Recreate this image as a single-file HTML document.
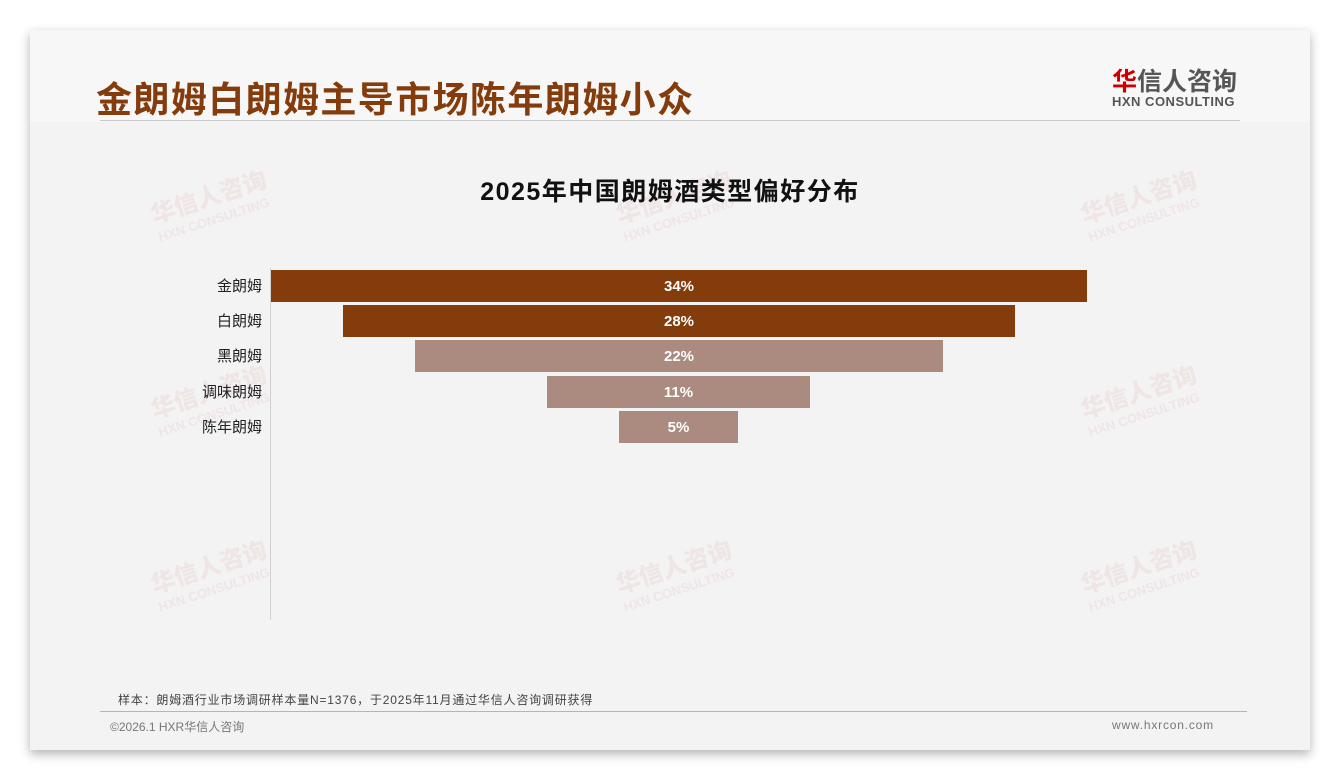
<!DOCTYPE html>
<html><head><meta charset="utf-8"><style>
body{margin:0;width:1340px;height:780px;background:#fff;position:relative;overflow:hidden;font-family:"Liberation Sans","Noto Sans CJK SC",sans-serif}
.card{position:absolute;left:30px;top:30px;width:1280px;height:720px;background:#f3f3f3;box-shadow:0 4px 10px rgba(0,0,0,.3)}
.hdr{position:absolute;left:0;top:0;width:1280px;height:92px;background:#f7f7f7}
.t{position:absolute;white-space:nowrap}
.bar{position:absolute;height:32px;color:#fff;font-weight:bold;font-size:15px;line-height:34px;text-align:center}
.lab{position:absolute;right:1078px;font-size:15px;color:#222;line-height:34px;white-space:nowrap}
.wm{position:absolute;color:rgba(200,60,60,.07);font-weight:bold;transform:rotate(-18deg);line-height:1.1}
.wm b{font-size:24px;display:block}.wm i{font-style:normal;font-size:13px}
</style></head><body>
<div class="card"><div class="hdr"></div></div>
<div class="t" style="left:96px;top:71px;font-size:36px;letter-spacing:1.4px;font-weight:bold;color:#843c0c">金朗姆白朗姆主导市场陈年朗姆小众</div>
<div style="position:absolute;left:100px;top:120px;width:1140px;height:1px;background:#c8c8c8"></div>
<div class="t" style="left:1112px;top:62px;font-size:25px;font-weight:bold;color:#555"><span style="color:#c00">华</span>信人咨询</div>
<div class="t" style="left:1112px;top:94px;font-size:13px;font-weight:bold;color:#555;letter-spacing:.5px">HXN CONSULTING</div>
<div class="wm" style="left:152px;top:185px"><b>华信人咨询</b><i>HXN CONSULTING</i></div>
<div class="wm" style="left:617px;top:185px"><b>华信人咨询</b><i>HXN CONSULTING</i></div>
<div class="wm" style="left:1082px;top:185px"><b>华信人咨询</b><i>HXN CONSULTING</i></div>
<div class="wm" style="left:152px;top:380px"><b>华信人咨询</b><i>HXN CONSULTING</i></div>
<div class="wm" style="left:1082px;top:380px"><b>华信人咨询</b><i>HXN CONSULTING</i></div>
<div class="wm" style="left:152px;top:555px"><b>华信人咨询</b><i>HXN CONSULTING</i></div>
<div class="wm" style="left:617px;top:555px"><b>华信人咨询</b><i>HXN CONSULTING</i></div>
<div class="wm" style="left:1082px;top:555px"><b>华信人咨询</b><i>HXN CONSULTING</i></div>
<div class="t" style="left:0;width:1340px;text-align:center;top:172px;font-size:25px;letter-spacing:1.5px;font-weight:bold;color:#111">2025年中国朗姆酒类型偏好分布</div>
<div style="position:absolute;left:270px;top:268px;width:1px;height:352px;background:#d0d0d0"></div>
<div class="lab" style="top:270px">金朗姆</div>
<div class="lab" style="top:305px">白朗姆</div>
<div class="lab" style="top:340px">黑朗姆</div>
<div class="lab" style="top:376px">调味朗姆</div>
<div class="lab" style="top:411px">陈年朗姆</div>
<div class="bar" style="left:271px;width:816px;top:270px;background:#843c0c">34%</div>
<div class="bar" style="left:343px;width:672px;top:305px;background:#843c0c">28%</div>
<div class="bar" style="left:415px;width:528px;top:340px;background:#ab8b80">22%</div>
<div class="bar" style="left:547px;width:263px;top:376px;background:#ab8b80">11%</div>
<div class="bar" style="left:619px;width:119px;top:411px;background:#ab8b80">5%</div>
<div class="t" style="left:118px;top:691px;font-size:12px;letter-spacing:.8px;color:#444">样本：朗姆酒行业市场调研样本量N=1376，于2025年11月通过华信人咨询调研获得</div>
<div style="position:absolute;left:100px;top:711px;width:1147px;height:1px;background:#c8b0a0"></div>
<div class="t" style="left:110px;top:718px;font-size:12px;color:#777">©2026.1 HXR华信人咨询</div>
<div class="t" style="left:1112px;top:718px;font-size:12px;letter-spacing:.8px;color:#777">www.hxrcon.com</div>
</body></html>
